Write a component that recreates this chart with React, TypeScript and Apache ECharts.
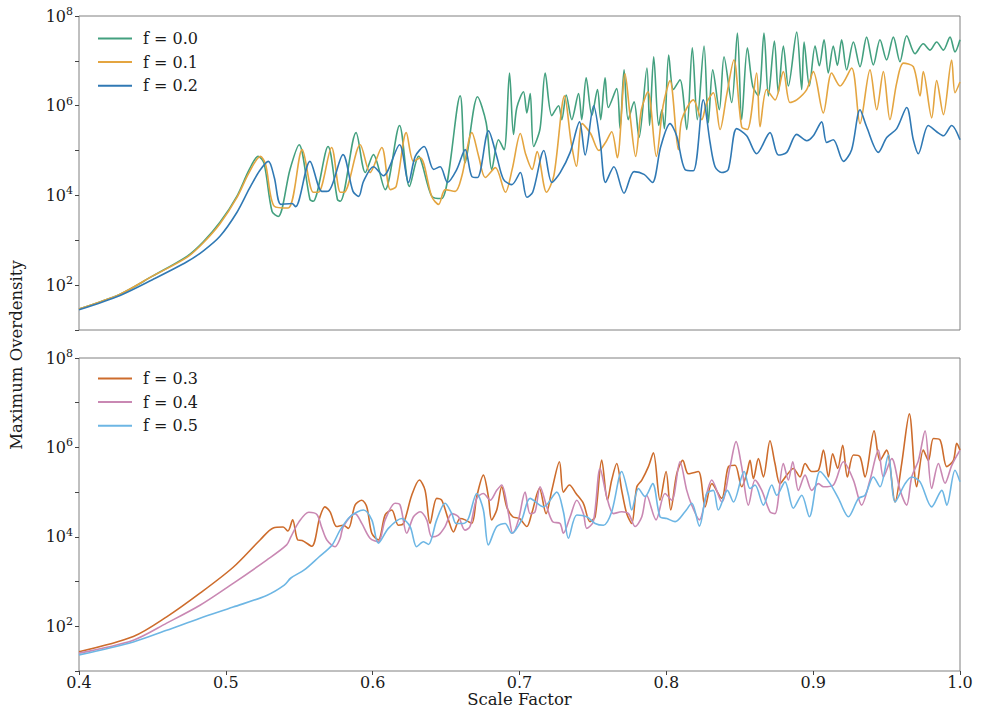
import React, { useEffect, useRef } from "react";
import * as echarts from "echarts";

// x-axis tick values (scale factor)
const X_TICKS = [0.4, 0.5, 0.6, 0.7, 0.8, 0.9, 1.0];
// labelled decades on the log y axis
const Y_LABEL_EXPONENTS = [2, 4, 6, 8];

// ---- Top panel: f = 0.0 (values are log10 of maximum overdensity) ----
const f00X = [0.4, 0.428, 0.45, 0.4735, 0.4845, 0.496, 0.5075, 0.516, 0.522, 0.526, 0.5315, 0.5357, 0.5437, 0.5499, 0.5573, 0.5595, 0.5696, 0.576, 0.578, 0.5887, 0.595, 0.6005, 0.6085, 0.6183, 0.625, 0.6312, 0.6403, 0.647, 0.6596, 0.663, 0.6714, 0.6773, 0.6811, 0.6857, 0.6895, 0.6932, 0.6959, 0.6982, 0.7027, 0.705, 0.7073, 0.7096, 0.714, 0.7175, 0.722, 0.7266, 0.7288, 0.7318, 0.7356, 0.7402, 0.7424, 0.7454, 0.7493, 0.7531, 0.7553, 0.7583, 0.7605, 0.7662, 0.7685, 0.7712, 0.774, 0.778, 0.7814, 0.7868, 0.7886, 0.7914, 0.7948, 0.797, 0.7987, 0.8016, 0.8048, 0.8093, 0.8139, 0.8177, 0.8211, 0.8257, 0.8286, 0.8316, 0.8361, 0.8393, 0.8445, 0.8484, 0.8513, 0.8552, 0.8588, 0.8627, 0.8665, 0.8695, 0.8736, 0.8763, 0.8797, 0.8831, 0.8888, 0.8922, 0.8938, 0.8974, 0.9013, 0.9042, 0.9074, 0.9103, 0.9137, 0.9165, 0.9194, 0.9228, 0.9274, 0.9319, 0.9364, 0.941, 0.9455, 0.95, 0.9546, 0.9591, 0.9637, 0.9694, 0.975, 0.9796, 0.9841, 0.9887, 0.9932, 0.9966, 1.0];
const f00Log = [1.47, 1.8, 2.2, 2.64, 2.96, 3.4, 3.98, 4.58, 4.87, 4.72, 3.64, 3.53, 4.58, 5.13, 3.91, 3.87, 5.09, 3.91, 3.87, 5.4, 4.51, 4.91, 4.13, 5.56, 4.2, 4.87, 3.98, 3.93, 6.22, 4.73, 6.2, 5.62, 4.58, 5.24, 5.02, 6.73, 5.36, 5.96, 6.31, 5.84, 6.27, 5.09, 5.49, 6.73, 5.78, 6.0, 5.69, 6.24, 5.69, 6.27, 5.69, 6.62, 5.78, 6.36, 5.69, 6.62, 5.96, 6.38, 5.49, 6.8, 5.69, 6.09, 5.29, 6.84, 5.56, 7.09, 5.56, 5.91, 5.49, 7.13, 6.36, 6.58, 5.47, 7.29, 5.69, 7.33, 5.62, 6.8, 5.91, 7.09, 6.07, 7.62, 5.69, 7.29, 6.44, 6.22, 7.62, 6.22, 7.44, 6.29, 7.33, 6.44, 7.64, 6.36, 7.42, 6.44, 7.33, 6.89, 7.47, 6.73, 7.33, 6.9, 7.47, 6.8, 7.42, 6.87, 7.53, 6.91, 7.47, 7.02, 7.53, 6.98, 7.56, 7.16, 7.38, 7.24, 7.42, 7.24, 7.53, 7.2, 7.47];

// ---- Top panel: f = 0.1 ----
const f01X = [0.4, 0.428, 0.45, 0.4735, 0.4845, 0.496, 0.5075, 0.516, 0.5235, 0.527, 0.533, 0.5425, 0.552, 0.5595, 0.563, 0.572, 0.578, 0.5805, 0.5915, 0.5982, 0.6062, 0.612, 0.616, 0.6229, 0.6278, 0.6324, 0.6403, 0.6449, 0.6494, 0.6562, 0.6608, 0.6676, 0.6722, 0.6767, 0.6836, 0.6904, 0.695, 0.7006, 0.7041, 0.7086, 0.712, 0.7184, 0.7234, 0.7307, 0.7352, 0.7388, 0.7427, 0.7484, 0.7541, 0.7586, 0.7628, 0.7666, 0.7719, 0.7753, 0.7791, 0.783, 0.7875, 0.7932, 0.7978, 0.8025, 0.8082, 0.8105, 0.8184, 0.8241, 0.8275, 0.832, 0.8366, 0.8411, 0.846, 0.8513, 0.8552, 0.8615, 0.8638, 0.8683, 0.874, 0.8797, 0.8842, 0.8888, 0.8956, 0.9001, 0.9069, 0.9126, 0.9183, 0.9262, 0.9319, 0.9387, 0.9433, 0.9478, 0.9523, 0.9569, 0.9614, 0.9682, 0.9728, 0.975, 0.9807, 0.9841, 0.9887, 0.9943, 0.9966, 1.0];
const f01Log = [1.47, 1.8, 2.2, 2.62, 2.94, 3.37, 3.95, 4.52, 4.87, 4.7, 3.76, 3.72, 5.02, 4.07, 4.07, 5.07, 4.07, 4.07, 5.13, 4.51, 5.07, 4.13, 4.2, 5.4, 4.76, 4.84, 3.97, 3.8, 4.13, 4.09, 4.44, 5.4, 4.87, 4.4, 4.62, 4.07, 4.58, 5.38, 4.93, 4.58, 4.98, 4.07, 4.44, 6.22, 5.18, 4.65, 5.6, 5.38, 5.0, 5.18, 5.42, 4.84, 6.71, 5.78, 4.87, 5.91, 6.31, 4.87, 6.0, 6.56, 5.02, 5.69, 6.13, 5.69, 6.07, 6.29, 5.47, 6.24, 7.02, 5.53, 5.47, 6.73, 5.53, 6.36, 6.13, 6.76, 6.07, 6.13, 6.36, 6.76, 5.84, 6.73, 6.44, 6.84, 5.6, 6.8, 5.91, 6.76, 5.69, 6.51, 6.95, 6.87, 6.22, 6.76, 5.73, 6.56, 5.8, 7.02, 6.29, 6.53];

// ---- Top panel: f = 0.2 ----
const f02X = [0.4, 0.428, 0.45, 0.4735, 0.4845, 0.496, 0.5075, 0.516, 0.523, 0.529, 0.533, 0.5375, 0.545, 0.5475, 0.5573, 0.5655, 0.57, 0.5798, 0.5866, 0.5905, 0.5937, 0.6005, 0.6073, 0.6183, 0.6244, 0.629, 0.6351, 0.6415, 0.646, 0.651, 0.6573, 0.663, 0.6676, 0.6714, 0.6789, 0.6845, 0.6891, 0.6948, 0.7006, 0.705, 0.709, 0.7166, 0.722, 0.7277, 0.7345, 0.7409, 0.7447, 0.7505, 0.755, 0.7586, 0.7643, 0.7712, 0.778, 0.7848, 0.7905, 0.7962, 0.8025, 0.807, 0.8127, 0.8184, 0.8252, 0.8298, 0.8332, 0.8377, 0.8422, 0.8479, 0.8547, 0.8615, 0.8706, 0.8763, 0.882, 0.8888, 0.8956, 0.9001, 0.9058, 0.9092, 0.9137, 0.9206, 0.9262, 0.9319, 0.9364, 0.9444, 0.9501, 0.9569, 0.9637, 0.9682, 0.9716, 0.9784, 0.9841, 0.9887, 0.9943, 1.0];
const f02Log = [1.45, 1.77, 2.12, 2.52, 2.76, 3.09, 3.62, 4.15, 4.55, 4.76, 4.4, 3.8, 3.82, 3.75, 4.76, 4.09, 4.1, 4.91, 4.09, 3.98, 4.31, 4.64, 4.44, 5.13, 4.29, 4.87, 5.09, 4.58, 4.64, 4.29, 4.58, 5.02, 4.42, 4.4, 5.44, 4.87, 4.36, 4.24, 4.51, 3.96, 4.07, 5.0, 4.29, 4.51, 4.96, 5.64, 4.9, 6.0, 5.18, 4.29, 4.64, 4.05, 4.53, 4.47, 4.29, 5.09, 5.6, 5.33, 4.58, 4.55, 6.13, 5.18, 4.64, 4.51, 4.58, 5.49, 5.33, 4.93, 5.4, 4.9, 4.96, 5.36, 5.22, 5.33, 5.64, 5.18, 5.24, 4.76, 5.02, 5.91, 5.53, 4.96, 5.29, 5.49, 5.96, 5.24, 4.93, 5.56, 5.42, 5.33, 5.56, 5.24];

// ---- Bottom panel: f = 0.3 ----
const f03X = [0.4, 0.437, 0.4597, 0.4824, 0.505, 0.5233, 0.5323, 0.539, 0.5423, 0.5455, 0.549, 0.552, 0.5585, 0.564, 0.5675, 0.571, 0.5755, 0.58, 0.5835, 0.588, 0.5926, 0.596, 0.5994, 0.6039, 0.6085, 0.613, 0.6175, 0.621, 0.6266, 0.6318, 0.6357, 0.6391, 0.6436, 0.647, 0.6516, 0.655, 0.6595, 0.663, 0.6675, 0.6709, 0.6754, 0.6788, 0.681, 0.6845, 0.6879, 0.6913, 0.6954, 0.7, 0.705, 0.7083, 0.7136, 0.7181, 0.722, 0.7272, 0.7299, 0.734, 0.7385, 0.7435, 0.748, 0.7515, 0.756, 0.7599, 0.7628, 0.7662, 0.7696, 0.773, 0.7764, 0.7799, 0.7833, 0.7878, 0.7912, 0.7957, 0.7998, 0.803, 0.8071, 0.8112, 0.815, 0.8218, 0.8264, 0.831, 0.8377, 0.8423, 0.8468, 0.8513, 0.8547, 0.857, 0.8593, 0.8627, 0.8661, 0.8706, 0.874, 0.8774, 0.882, 0.8865, 0.891, 0.8945, 0.899, 0.9036, 0.907, 0.9104, 0.9133, 0.9167, 0.9201, 0.9233, 0.9274, 0.9319, 0.9353, 0.9415, 0.9455, 0.95, 0.9558, 0.9603, 0.9655, 0.9705, 0.975, 0.9785, 0.9819, 0.9864, 0.991, 0.9955, 0.9978, 1.0];
const f03Log = [1.43, 1.77, 2.21, 2.74, 3.32, 3.93, 4.2, 4.22, 4.13, 4.38, 3.93, 3.92, 3.79, 4.44, 4.67, 4.56, 4.23, 4.26, 4.19, 4.71, 4.82, 4.67, 4.08, 3.93, 4.49, 4.6, 4.26, 4.3, 4.93, 5.27, 5.04, 4.3, 4.86, 4.82, 4.38, 4.11, 4.41, 4.38, 4.3, 4.9, 5.38, 4.9, 4.38, 4.6, 5.12, 4.67, 4.45, 4.41, 4.23, 4.52, 5.08, 4.52, 5.04, 5.68, 5.0, 5.16, 4.97, 4.75, 4.34, 4.45, 5.72, 4.82, 5.27, 5.64, 5.04, 4.52, 4.3, 5.12, 5.27, 5.57, 5.88, 4.82, 5.46, 4.6, 5.41, 5.71, 5.41, 5.46, 4.67, 5.19, 4.86, 5.57, 5.6, 5.12, 5.41, 5.71, 5.3, 5.75, 5.34, 6.15, 5.64, 5.19, 5.38, 5.53, 5.34, 5.64, 5.46, 5.49, 5.94, 5.34, 5.86, 5.53, 6.05, 5.34, 5.83, 5.79, 5.34, 6.37, 5.71, 5.94, 4.78, 5.64, 6.75, 5.12, 5.94, 5.71, 6.2, 6.17, 5.57, 5.71, 6.09, 5.94];

// ---- Bottom panel: f = 0.4 ----
const f04X = [0.4, 0.437, 0.4597, 0.4824, 0.505, 0.5278, 0.5414, 0.5443, 0.5497, 0.5565, 0.562, 0.5654, 0.5688, 0.5744, 0.5778, 0.58, 0.588, 0.5926, 0.5982, 0.6039, 0.6085, 0.6153, 0.6187, 0.6232, 0.6278, 0.6323, 0.6368, 0.6402, 0.6448, 0.6493, 0.6539, 0.6584, 0.6629, 0.6663, 0.6709, 0.6754, 0.68, 0.6845, 0.6879, 0.6925, 0.6954, 0.6993, 0.7038, 0.7072, 0.7106, 0.714, 0.7186, 0.7226, 0.7276, 0.7299, 0.7345, 0.739, 0.7435, 0.7458, 0.7503, 0.7549, 0.7594, 0.764, 0.7696, 0.7742, 0.7788, 0.7833, 0.7866, 0.793, 0.7991, 0.8037, 0.8093, 0.8139, 0.8173, 0.8225, 0.8275, 0.8309, 0.8377, 0.8434, 0.8475, 0.8513, 0.8559, 0.8604, 0.865, 0.8706, 0.874, 0.8797, 0.8831, 0.8861, 0.8899, 0.8945, 0.899, 0.9036, 0.907, 0.9138, 0.9206, 0.9274, 0.933, 0.9387, 0.9444, 0.9478, 0.9535, 0.9592, 0.9637, 0.9671, 0.9717, 0.9762, 0.9807, 0.9853, 0.9898, 0.9944, 1.0];
const f04Log = [1.4, 1.69, 2.07, 2.47, 2.96, 3.48, 3.82, 4.0, 4.33, 4.55, 4.5, 4.2, 3.93, 3.78, 3.96, 4.23, 4.52, 4.3, 3.97, 3.89, 4.38, 4.75, 4.71, 4.08, 4.45, 4.56, 4.38, 4.0, 4.04, 4.23, 4.52, 4.45, 4.15, 4.23, 4.86, 4.97, 4.82, 5.04, 5.16, 4.52, 4.08, 4.38, 5.0, 4.52, 4.56, 5.12, 4.67, 4.34, 4.3, 4.08, 4.45, 4.82, 4.52, 4.19, 4.34, 5.53, 4.9, 4.52, 4.56, 4.52, 4.23, 4.45, 4.93, 4.38, 4.97, 4.82, 5.68, 5.04, 4.71, 4.38, 4.97, 5.27, 4.78, 5.57, 6.13, 5.57, 4.71, 5.27, 5.04, 4.56, 4.52, 5.64, 5.27, 5.68, 5.04, 5.38, 5.04, 5.19, 5.12, 5.16, 5.68, 5.27, 4.71, 5.27, 5.94, 5.34, 5.75, 5.04, 4.71, 5.34, 5.71, 6.37, 5.08, 5.64, 5.2, 5.6, 5.94];

// ---- Bottom panel: f = 0.5 ----
const f05X = [0.4, 0.437, 0.4597, 0.4824, 0.505, 0.5278, 0.5398, 0.5443, 0.5534, 0.5634, 0.5724, 0.5778, 0.5846, 0.5937, 0.5994, 0.6039, 0.6107, 0.6198, 0.6255, 0.63, 0.6346, 0.638, 0.6436, 0.6493, 0.6539, 0.6568, 0.6618, 0.6652, 0.6709, 0.6754, 0.6788, 0.6845, 0.6902, 0.6947, 0.7015, 0.7072, 0.7163, 0.7254, 0.7299, 0.7333, 0.739, 0.7458, 0.7515, 0.7572, 0.7628, 0.7696, 0.7742, 0.7764, 0.781, 0.7855, 0.7907, 0.7957, 0.8003, 0.806, 0.8127, 0.8173, 0.8225, 0.8275, 0.832, 0.8354, 0.8416, 0.8457, 0.853, 0.857, 0.8604, 0.8661, 0.8718, 0.8752, 0.8808, 0.8865, 0.8922, 0.8974, 0.9047, 0.9115, 0.9172, 0.924, 0.9308, 0.9353, 0.941, 0.9455, 0.9512, 0.9558, 0.9626, 0.9671, 0.9728, 0.9807, 0.9876, 0.991, 0.9966, 1.0];
const f05Log = [1.36, 1.65, 1.91, 2.18, 2.43, 2.69, 2.92, 3.08, 3.26, 3.55, 3.82, 4.15, 4.45, 4.6, 4.38, 3.86, 4.19, 4.41, 4.23, 3.78, 3.89, 3.83, 4.38, 4.75, 4.52, 4.3, 4.3, 4.41, 4.97, 4.6, 3.82, 4.23, 4.3, 4.08, 4.38, 4.86, 4.67, 5.0, 4.56, 3.97, 4.49, 4.45, 4.3, 4.26, 4.56, 5.46, 4.93, 4.6, 5.08, 4.9, 5.19, 4.45, 4.41, 4.34, 4.56, 4.75, 4.24, 4.97, 5.04, 4.6, 5.04, 4.78, 5.46, 5.08, 5.16, 4.71, 5.16, 4.93, 5.23, 4.64, 4.93, 4.45, 5.46, 5.19, 4.86, 4.45, 4.86, 4.93, 5.34, 5.12, 5.83, 4.78, 5.19, 5.34, 5.23, 4.67, 5.04, 4.71, 5.49, 5.23];

const SERIES_NAMES = ["f = 0.0", "f = 0.1", "f = 0.2", "f = 0.3", "f = 0.4", "f = 0.5"];
const COLORS = ["#43a07f", "#e4a540", "#3079b4", "#cd6c2c", "#c988b3", "#6db6e4"];

const FONT = "DejaVu Serif";
const TEXT = "#1a1a1a";
const SPINE = "#808080";

function toPairs(xs: number[], logs: number[]) {
  return xs.map((x, i) => [x, Math.pow(10, logs[i])]);
}

export default function App() {
  const ref = useRef<HTMLDivElement>(null);

  useEffect(() => {
    if (!ref.current) return;
    const chart = echarts.init(ref.current, null, { renderer: "svg" });

    const grids = [
      { left: 79, top: 16, width: 881, height: 314 },
      { left: 79, top: 358, width: 881, height: 313 },
    ].map((g) => ({ ...g, show: true, borderColor: SPINE, borderWidth: 1, backgroundColor: "transparent" }));

    const xAxisBase = {
      type: "value" as const,
      min: 0.4,
      max: 1.0,
      interval: 0.1,
      axisLine: { show: false },
      splitLine: { show: false },
    };

    const yAxisBase = (gridIndex: number) => ({
      gridIndex,
      type: "log" as const,
      logBase: 10,
      min: 10,
      max: 1e8,
      splitNumber: 7,
      axisLine: { show: false },
      splitLine: { show: false },
      axisTick: { show: true, length: 4, lineStyle: { color: "#444" } },
      axisLabel: {
        margin: 6,
        formatter: (v: number) => {
          const e = Math.round(Math.log10(v));
          return Y_LABEL_EXPONENTS.includes(e) ? `{b|10}{s|${e}}` : "";
        },
        rich: {
          b: { fontFamily: FONT, fontSize: 16, color: TEXT },
          s: { fontFamily: FONT, fontSize: 11, color: TEXT, verticalAlign: "top", padding: [0, 0, 9, 0] },
        },
      },
    });

    const allData = [
      toPairs(f00X, f00Log),
      toPairs(f01X, f01Log),
      toPairs(f02X, f02Log),
      toPairs(f03X, f03Log),
      toPairs(f04X, f04Log),
      toPairs(f05X, f05Log),
    ];

    const series = allData.map((data, i) => ({
      name: SERIES_NAMES[i],
      type: "line" as const,
      xAxisIndex: i < 3 ? 0 : 1,
      yAxisIndex: i < 3 ? 0 : 1,
      data,
      showSymbol: false,
      symbol: "none",
      smooth: 0.3,
      lineStyle: { width: 1.6, color: COLORS[i] },
      itemStyle: { color: COLORS[i] },
      z: 2 + i,
    }));

    const legendBase = {
      orient: "vertical" as const,
      left: 93,
      icon: "rect",
      itemWidth: 34,
      itemHeight: 2,
      itemGap: 7.6,
      textStyle: { fontFamily: FONT, fontSize: 16, color: TEXT, lineHeight: 16, padding: [0, 0, 0, 6] },
    };

    chart.setOption({
      animation: false,
      backgroundColor: "#ffffff",
      grid: grids,
      xAxis: [
        { ...xAxisBase, gridIndex: 0, axisTick: { show: false }, axisLabel: { show: false } },
        {
          ...xAxisBase,
          gridIndex: 1,
          axisTick: { show: true, length: 4, lineStyle: { color: "#444" } },
          axisLabel: {
            fontFamily: FONT,
            fontSize: 16,
            color: TEXT,
            margin: 3,
            customValues: X_TICKS,
            formatter: (v: number) => v.toFixed(1),
          },
          name: "Scale Factor",
          nameLocation: "middle",
          nameGap: 20,
          nameTextStyle: { fontFamily: FONT, fontSize: 16.5, color: TEXT },
        },
      ],
      yAxis: [yAxisBase(0), yAxisBase(1)],
      legend: [
        { ...legendBase, top: 25.5, data: SERIES_NAMES.slice(0, 3) },
        { ...legendBase, top: 365.5, data: SERIES_NAMES.slice(3) },
      ],
      graphic: [
        {
          type: "text",
          x: 16,
          y: 355,
          rotation: Math.PI / 2,
          style: {
            text: "Maximum Overdensity",
            fontFamily: FONT,
            fontSize: 16.5,
            fill: TEXT,
            align: "center",
            verticalAlign: "middle",
          },
        },
      ],
      series,
    });

    return () => chart.dispose();
  }, []);

  return (
    <div
      ref={ref}
      style={{ position: "fixed", left: 0, top: 0, width: 982, height: 722, background: "#fff" }}
    />
  );
}
